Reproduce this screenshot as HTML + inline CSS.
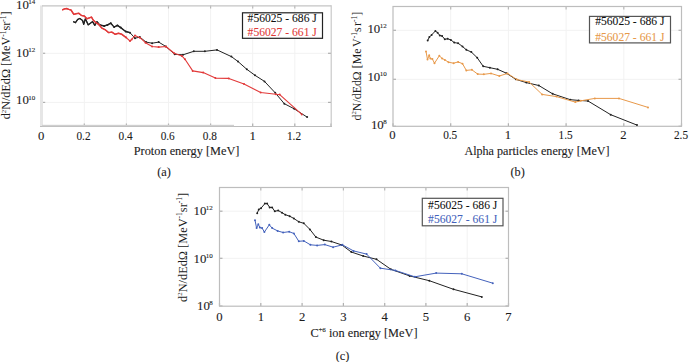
<!DOCTYPE html>
<html><head><meta charset="utf-8"><style>
html,body{margin:0;padding:0;background:#fff;}
svg{display:block;}
</style></head><body>
<svg width="689" height="362" viewBox="0 0 689 362">
<rect width="689" height="362" fill="#fff"/>
<line x1="84.3" y1="5.5" x2="84.3" y2="126.5" stroke="#f2f2f2" stroke-width="1"/>
<line x1="126.4" y1="5.5" x2="126.4" y2="126.5" stroke="#f2f2f2" stroke-width="1"/>
<line x1="168.5" y1="5.5" x2="168.5" y2="126.5" stroke="#f2f2f2" stroke-width="1"/>
<line x1="210.6" y1="5.5" x2="210.6" y2="126.5" stroke="#f2f2f2" stroke-width="1"/>
<line x1="252.7" y1="5.5" x2="252.7" y2="126.5" stroke="#f2f2f2" stroke-width="1"/>
<line x1="294.8" y1="5.5" x2="294.8" y2="126.5" stroke="#f2f2f2" stroke-width="1"/>
<line x1="42.2" y1="53.3" x2="331" y2="53.3" stroke="#f2f2f2" stroke-width="1"/>
<line x1="42.2" y1="102.4" x2="331" y2="102.4" stroke="#f2f2f2" stroke-width="1"/>
<line x1="42.2" y1="126.5" x2="42.2" y2="123.5" stroke="#b0b0b0" stroke-width="1.2"/>
<line x1="84.3" y1="126.5" x2="84.3" y2="123.5" stroke="#b0b0b0" stroke-width="1.2"/>
<line x1="84.3" y1="5.5" x2="84.3" y2="8.5" stroke="#b8b8b8" stroke-width="1.2"/>
<line x1="126.4" y1="126.5" x2="126.4" y2="123.5" stroke="#b0b0b0" stroke-width="1.2"/>
<line x1="126.4" y1="5.5" x2="126.4" y2="8.5" stroke="#b8b8b8" stroke-width="1.2"/>
<line x1="168.5" y1="126.5" x2="168.5" y2="123.5" stroke="#b0b0b0" stroke-width="1.2"/>
<line x1="168.5" y1="5.5" x2="168.5" y2="8.5" stroke="#b8b8b8" stroke-width="1.2"/>
<line x1="210.6" y1="126.5" x2="210.6" y2="123.5" stroke="#b0b0b0" stroke-width="1.2"/>
<line x1="210.6" y1="5.5" x2="210.6" y2="8.5" stroke="#b8b8b8" stroke-width="1.2"/>
<line x1="252.7" y1="126.5" x2="252.7" y2="123.5" stroke="#b0b0b0" stroke-width="1.2"/>
<line x1="252.7" y1="5.5" x2="252.7" y2="8.5" stroke="#b8b8b8" stroke-width="1.2"/>
<line x1="294.8" y1="126.5" x2="294.8" y2="123.5" stroke="#b0b0b0" stroke-width="1.2"/>
<line x1="294.8" y1="5.5" x2="294.8" y2="8.5" stroke="#b8b8b8" stroke-width="1.2"/>
<line x1="331" y1="126.5" x2="331" y2="123.5" stroke="#b0b0b0" stroke-width="1.2"/>
<line x1="42.2" y1="53.3" x2="45.2" y2="53.3" stroke="#b0b0b0" stroke-width="1.2"/>
<line x1="331" y1="53.3" x2="328" y2="53.3" stroke="#b0b0b0" stroke-width="1.2"/>
<line x1="42.2" y1="102.4" x2="45.2" y2="102.4" stroke="#b0b0b0" stroke-width="1.2"/>
<line x1="331" y1="102.4" x2="328" y2="102.4" stroke="#b0b0b0" stroke-width="1.2"/>
<rect x="40" y="5.5" width="3" height="121" fill="#e6e6e6"/>
<line x1="42" y1="5.9" x2="331.2" y2="5.9" stroke="#c4c4c4" stroke-width="1.3"/>
<line x1="331.2" y1="5.3" x2="331.2" y2="127" stroke="#c4c4c4" stroke-width="1.1"/>
<line x1="40" y1="126.5" x2="332" y2="126.5" stroke="#bdbdbd" stroke-width="1"/>
<rect x="42" y="124.8" width="192" height="1.4" fill="#cfcfcf"/>
<polyline points="73.2,21.6 75.5,22.7 77.7,19.4 79.9,18.5 82.6,20.5 83.7,24.3 85.4,18.8 88.2,24.9 90.4,23.2 92.6,21.6 94.8,25.4 97.0,21.6 99.7,24.9 104.2,26.0 107.5,24.9 110.8,23.2 114.1,27.1 117.4,25.4 120.7,27.6 125.7,31.5 130.0,32.7 135.0,38.2 139.9,37.1 146.0,42.1 152.1,43.2 158.7,42.1 165.9,46.5 174.7,54.3 183.0,54.8 193.8,51.3 204.9,51.3 217.0,49.9 231.4,56.6 238.0,61.5 246.8,69.3 255.0,75.3 264.5,81.4 275.2,92.8 284.3,103.7 294.2,108.8 307.1,117.1" fill="none" stroke="#222222" stroke-width="1" stroke-linejoin="round"/>
<circle cx="99.7" cy="24.9" r="1.0" fill="#222222"/><circle cx="104.2" cy="26.0" r="1.0" fill="#222222"/><circle cx="107.5" cy="24.9" r="1.0" fill="#222222"/><circle cx="110.8" cy="23.2" r="1.0" fill="#222222"/><circle cx="114.1" cy="27.1" r="1.0" fill="#222222"/><circle cx="117.4" cy="25.4" r="1.0" fill="#222222"/><circle cx="120.7" cy="27.6" r="1.0" fill="#222222"/><circle cx="125.7" cy="31.5" r="1.0" fill="#222222"/><circle cx="130.0" cy="32.7" r="1.0" fill="#222222"/><circle cx="135.0" cy="38.2" r="1.0" fill="#222222"/><circle cx="139.9" cy="37.1" r="1.0" fill="#222222"/><circle cx="146.0" cy="42.1" r="1.0" fill="#222222"/><circle cx="152.1" cy="43.2" r="1.0" fill="#222222"/><circle cx="158.7" cy="42.1" r="1.0" fill="#222222"/><circle cx="165.9" cy="46.5" r="1.0" fill="#222222"/><circle cx="174.7" cy="54.3" r="1.0" fill="#222222"/><circle cx="183.0" cy="54.8" r="1.0" fill="#222222"/><circle cx="193.8" cy="51.3" r="1.0" fill="#222222"/><circle cx="204.9" cy="51.3" r="1.0" fill="#222222"/><circle cx="217.0" cy="49.9" r="1.0" fill="#222222"/><circle cx="231.4" cy="56.6" r="1.0" fill="#222222"/><circle cx="238.0" cy="61.5" r="1.0" fill="#222222"/><circle cx="246.8" cy="69.3" r="1.0" fill="#222222"/><circle cx="255.0" cy="75.3" r="1.0" fill="#222222"/><circle cx="264.5" cy="81.4" r="1.0" fill="#222222"/><circle cx="275.2" cy="92.8" r="1.0" fill="#222222"/><circle cx="284.3" cy="103.7" r="1.0" fill="#222222"/><circle cx="294.2" cy="108.8" r="1.0" fill="#222222"/><circle cx="307.1" cy="117.1" r="1.0" fill="#222222"/>
<polyline points="73.2,21.6 75.5,22.7 77.7,19.4 79.9,18.5 82.6,20.5 83.7,24.3 85.4,18.8 88.2,24.9 90.4,23.2 92.6,21.6 94.8,25.4 97.0,21.6 99.7,24.9 104.2,26.0 107.5,24.9 110.8,23.2 114.1,27.1 117.4,25.4 120.7,27.6 125.7,31.5 130.0,32.7" fill="none" stroke="#222222" stroke-width="1.35" stroke-linejoin="round"/>
<polyline points="62.2,10.0 64.4,8.9 66.6,8.5 68.8,9.4 71.0,10.0 73.8,14.4 76.0,13.8 78.8,13.3 81.5,15.5 84.3,16.0 87.0,18.8 91.5,17.1 93.1,19.9 95.9,22.7 98.6,24.3 102.0,28.2 105.3,29.8 108.6,32.6 111.9,32.1 115.2,34.3 118.5,33.2 121.8,34.3 126.2,37.6 130.0,41.0 131.7,39.4 135.0,35.5 139.9,37.7 145.5,42.7 152.1,46.5 158.7,47.1 165.9,46.5 174.2,53.2 181.9,55.9 185.0,59.3 192.7,70.9 203.2,72.6 215.4,78.1 228.8,78.4 244.0,84.0 260.7,92.5 275.9,94.3 279.7,94.6 301.8,114.4" fill="none" stroke="#e23a3a" stroke-width="1.1" stroke-linejoin="round"/>
<circle cx="126.2" cy="37.6" r="1.0" fill="#e23a3a"/><circle cx="130.0" cy="41.0" r="1.0" fill="#e23a3a"/><circle cx="131.7" cy="39.4" r="1.0" fill="#e23a3a"/><circle cx="135.0" cy="35.5" r="1.0" fill="#e23a3a"/><circle cx="139.9" cy="37.7" r="1.0" fill="#e23a3a"/><circle cx="145.5" cy="42.7" r="1.0" fill="#e23a3a"/><circle cx="152.1" cy="46.5" r="1.0" fill="#e23a3a"/><circle cx="158.7" cy="47.1" r="1.0" fill="#e23a3a"/><circle cx="165.9" cy="46.5" r="1.0" fill="#e23a3a"/><circle cx="174.2" cy="53.2" r="1.0" fill="#e23a3a"/><circle cx="181.9" cy="55.9" r="1.0" fill="#e23a3a"/><circle cx="185.0" cy="59.3" r="1.0" fill="#e23a3a"/><circle cx="192.7" cy="70.9" r="1.0" fill="#e23a3a"/><circle cx="203.2" cy="72.6" r="1.0" fill="#e23a3a"/><circle cx="215.4" cy="78.1" r="1.0" fill="#e23a3a"/><circle cx="228.8" cy="78.4" r="1.0" fill="#e23a3a"/><circle cx="244.0" cy="84.0" r="1.0" fill="#e23a3a"/><circle cx="260.7" cy="92.5" r="1.0" fill="#e23a3a"/><circle cx="275.9" cy="94.3" r="1.0" fill="#e23a3a"/><circle cx="279.7" cy="94.6" r="1.0" fill="#e23a3a"/><circle cx="301.8" cy="114.4" r="1.0" fill="#e23a3a"/>
<polyline points="62.2,10.0 64.4,8.9 66.6,8.5 68.8,9.4 71.0,10.0 73.8,14.4 76.0,13.8 78.8,13.3 81.5,15.5 84.3,16.0 87.0,18.8 91.5,17.1 93.1,19.9 95.9,22.7 98.6,24.3 102.0,28.2 105.3,29.8 108.6,32.6 111.9,32.1 115.2,34.3 118.5,33.2 121.8,34.3 126.2,37.6" fill="none" stroke="#e23a3a" stroke-width="1.45" stroke-linejoin="round"/>
<text transform="translate(41.2,139.9) scale(1.0,1)" font-family="Liberation Serif" font-size="12.7" text-anchor="middle" fill="#1c1c1c" stroke="#1c1c1c" stroke-width="0.1">0</text>
<text transform="translate(83.5,139.9) scale(0.89,1)" font-family="Liberation Serif" font-size="12.7" text-anchor="middle" fill="#1c1c1c" stroke="#1c1c1c" stroke-width="0.1">0.2</text>
<text transform="translate(125.60000000000001,139.9) scale(0.89,1)" font-family="Liberation Serif" font-size="12.7" text-anchor="middle" fill="#1c1c1c" stroke="#1c1c1c" stroke-width="0.1">0.4</text>
<text transform="translate(167.7,139.9) scale(0.89,1)" font-family="Liberation Serif" font-size="12.7" text-anchor="middle" fill="#1c1c1c" stroke="#1c1c1c" stroke-width="0.1">0.6</text>
<text transform="translate(209.79999999999998,139.9) scale(0.89,1)" font-family="Liberation Serif" font-size="12.7" text-anchor="middle" fill="#1c1c1c" stroke="#1c1c1c" stroke-width="0.1">0.8</text>
<text transform="translate(252.7,139.9) scale(1.0,1)" font-family="Liberation Serif" font-size="12.7" text-anchor="middle" fill="#1c1c1c" stroke="#1c1c1c" stroke-width="0.1">1</text>
<text transform="translate(294.0,139.9) scale(0.89,1)" font-family="Liberation Serif" font-size="12.7" text-anchor="middle" fill="#1c1c1c" stroke="#1c1c1c" stroke-width="0.1">1.2</text>
<text x="35.3" y="8.9" font-family="Liberation Serif" font-size="12.8" text-anchor="end" fill="#1c1c1c" stroke="#1c1c1c" stroke-width="0.1">10<tspan font-size="7.0" dx="-0.5" dy="-4.6">14</tspan></text>
<text x="35.3" y="56.9" font-family="Liberation Serif" font-size="12.8" text-anchor="end" fill="#1c1c1c" stroke="#1c1c1c" stroke-width="0.1">10<tspan font-size="7.0" dx="-0.5" dy="-4.6">12</tspan></text>
<text x="35.3" y="104.2" font-family="Liberation Serif" font-size="12.8" text-anchor="end" fill="#1c1c1c" stroke="#1c1c1c" stroke-width="0.1">10<tspan font-size="7.0" dx="-0.5" dy="-4.6">10</tspan></text>
<text x="186.6" y="154.9" font-family="Liberation Serif" font-size="12.3" text-anchor="middle" fill="#1c1c1c" stroke="#1c1c1c" stroke-width="0.1">Proton energy [MeV]</text>
<text x="164" y="176.3" font-family="Liberation Serif" font-size="12.3" text-anchor="middle" fill="#1c1c1c" stroke="#1c1c1c" stroke-width="0.1">(a)</text>
<text transform="translate(10.1,65.4) rotate(-90)" font-family="Liberation Serif" font-size="12.2" text-anchor="middle" fill="#1c1c1c">d<tspan font-size="6.8" dy="-4.6">2</tspan><tspan dy="4.6">N/dEdΩ [MeV</tspan><tspan font-size="7.5" dy="-4.5">-1</tspan><tspan dy="4.5">sr</tspan><tspan font-size="7.5" dy="-4.5">-1</tspan><tspan dy="4.5">]</tspan></text>
<rect x="242.5" y="12.8" width="80" height="25.5" fill="#fff" stroke="#222" stroke-width="1.2"/><text x="247.6" y="22.3" font-family="Liberation Serif" font-size="11.6" fill="#111" stroke="#111" stroke-width="0.08">#56025 - 686 J</text><text x="247.6" y="35.9" font-family="Liberation Serif" font-size="11.6" fill="#e23a3a" stroke="#e23a3a" stroke-width="0.08">#56027 - 661 J</text>
<line x1="450.7" y1="6.5" x2="450.7" y2="126.3" stroke="#f2f2f2" stroke-width="1"/>
<line x1="508.4" y1="6.5" x2="508.4" y2="126.3" stroke="#f2f2f2" stroke-width="1"/>
<line x1="566.1" y1="6.5" x2="566.1" y2="126.3" stroke="#f2f2f2" stroke-width="1"/>
<line x1="623.8" y1="6.5" x2="623.8" y2="126.3" stroke="#f2f2f2" stroke-width="1"/>
<line x1="393" y1="30.3" x2="681.5" y2="30.3" stroke="#f2f2f2" stroke-width="1"/>
<line x1="393" y1="79.3" x2="681.5" y2="79.3" stroke="#f2f2f2" stroke-width="1"/>
<line x1="393.0" y1="126.3" x2="393.0" y2="123.3" stroke="#b0b0b0" stroke-width="1.2"/>
<line x1="450.7" y1="126.3" x2="450.7" y2="123.3" stroke="#b0b0b0" stroke-width="1.2"/>
<line x1="450.7" y1="6.5" x2="450.7" y2="9.5" stroke="#b8b8b8" stroke-width="1.2"/>
<line x1="508.4" y1="126.3" x2="508.4" y2="123.3" stroke="#b0b0b0" stroke-width="1.2"/>
<line x1="508.4" y1="6.5" x2="508.4" y2="9.5" stroke="#b8b8b8" stroke-width="1.2"/>
<line x1="566.1" y1="126.3" x2="566.1" y2="123.3" stroke="#b0b0b0" stroke-width="1.2"/>
<line x1="566.1" y1="6.5" x2="566.1" y2="9.5" stroke="#b8b8b8" stroke-width="1.2"/>
<line x1="623.8" y1="126.3" x2="623.8" y2="123.3" stroke="#b0b0b0" stroke-width="1.2"/>
<line x1="623.8" y1="6.5" x2="623.8" y2="9.5" stroke="#b8b8b8" stroke-width="1.2"/>
<line x1="681.5" y1="126.3" x2="681.5" y2="123.3" stroke="#b0b0b0" stroke-width="1.2"/>
<line x1="393" y1="30.3" x2="396" y2="30.3" stroke="#b0b0b0" stroke-width="1.2"/>
<line x1="681.5" y1="30.3" x2="678.5" y2="30.3" stroke="#b0b0b0" stroke-width="1.2"/>
<line x1="393" y1="79.3" x2="396" y2="79.3" stroke="#b0b0b0" stroke-width="1.2"/>
<line x1="681.5" y1="79.3" x2="678.5" y2="79.3" stroke="#b0b0b0" stroke-width="1.2"/>
<line x1="393" y1="126.3" x2="396" y2="126.3" stroke="#b0b0b0" stroke-width="1.2"/>
<line x1="681.5" y1="126.3" x2="678.5" y2="126.3" stroke="#b0b0b0" stroke-width="1.2"/>
<rect x="393" y="6.5" width="288.5" height="119.8" fill="none" stroke="#bdbdbd" stroke-width="1.2"/>
<polyline points="427.7,40.4 429.4,37.1 431.6,34.9 435.4,31.0 437.6,32.7 439.8,35.5 442.1,36.0 444.8,39.3 447.6,38.8 450.9,39.9 454.2,42.6 458.1,43.2 462.5,46.5 466.3,49.8 471.3,52.0 477.2,57.7 483.2,66.3 489.9,67.7 497.6,69.3 506.4,73.2 515.8,79.3 526.3,82.6 538.8,85.5 552.6,93.8 570.3,99.7 578.6,100.4 588.0,101.0 610.7,114.7 637.0,125.1" fill="none" stroke="#222222" stroke-width="1" stroke-linejoin="round"/>
<circle cx="427.7" cy="40.4" r="1.0" fill="#222222"/><circle cx="429.4" cy="37.1" r="1.0" fill="#222222"/><circle cx="431.6" cy="34.9" r="1.0" fill="#222222"/><circle cx="435.4" cy="31.0" r="1.0" fill="#222222"/><circle cx="437.6" cy="32.7" r="1.0" fill="#222222"/><circle cx="439.8" cy="35.5" r="1.0" fill="#222222"/><circle cx="442.1" cy="36.0" r="1.0" fill="#222222"/><circle cx="444.8" cy="39.3" r="1.0" fill="#222222"/><circle cx="447.6" cy="38.8" r="1.0" fill="#222222"/><circle cx="450.9" cy="39.9" r="1.0" fill="#222222"/><circle cx="454.2" cy="42.6" r="1.0" fill="#222222"/><circle cx="458.1" cy="43.2" r="1.0" fill="#222222"/><circle cx="462.5" cy="46.5" r="1.0" fill="#222222"/><circle cx="466.3" cy="49.8" r="1.0" fill="#222222"/><circle cx="471.3" cy="52.0" r="1.0" fill="#222222"/><circle cx="477.2" cy="57.7" r="1.0" fill="#222222"/><circle cx="483.2" cy="66.3" r="1.0" fill="#222222"/><circle cx="489.9" cy="67.7" r="1.0" fill="#222222"/><circle cx="497.6" cy="69.3" r="1.0" fill="#222222"/><circle cx="506.4" cy="73.2" r="1.0" fill="#222222"/><circle cx="515.8" cy="79.3" r="1.0" fill="#222222"/><circle cx="526.3" cy="82.6" r="1.0" fill="#222222"/><circle cx="538.8" cy="85.5" r="1.0" fill="#222222"/><circle cx="552.6" cy="93.8" r="1.0" fill="#222222"/><circle cx="570.3" cy="99.7" r="1.0" fill="#222222"/><circle cx="578.6" cy="100.4" r="1.0" fill="#222222"/><circle cx="588.0" cy="101.0" r="1.0" fill="#222222"/><circle cx="610.7" cy="114.7" r="1.0" fill="#222222"/><circle cx="637.0" cy="125.1" r="1.0" fill="#222222"/>
<polyline points="426.0,51.5 427.5,59.5 429.2,55.3 430.4,58.6 432.4,59.1 434.5,63.2 439.3,55.8 442.1,58.4 444.9,59.9 448.5,62.2 453.6,63.2 458.1,61.9 462.5,63.7 466.3,70.4 471.9,69.8 477.7,74.1 483.8,74.3 491.0,73.4 499.3,76.0 507.5,73.4 516.9,79.6 529.1,82.0 542.1,94.4 556.5,96.6 575.3,102.1 580.8,100.8 594.8,98.4 619.0,98.4 648.0,107.4" fill="none" stroke="#e8994a" stroke-width="1.0" stroke-linejoin="round"/>
<circle cx="426.0" cy="51.5" r="1.0" fill="#e8994a"/><circle cx="427.5" cy="59.5" r="1.0" fill="#e8994a"/><circle cx="429.2" cy="55.3" r="1.0" fill="#e8994a"/><circle cx="430.4" cy="58.6" r="1.0" fill="#e8994a"/><circle cx="432.4" cy="59.1" r="1.0" fill="#e8994a"/><circle cx="434.5" cy="63.2" r="1.0" fill="#e8994a"/><circle cx="439.3" cy="55.8" r="1.0" fill="#e8994a"/><circle cx="442.1" cy="58.4" r="1.0" fill="#e8994a"/><circle cx="444.9" cy="59.9" r="1.0" fill="#e8994a"/><circle cx="448.5" cy="62.2" r="1.0" fill="#e8994a"/><circle cx="453.6" cy="63.2" r="1.0" fill="#e8994a"/><circle cx="458.1" cy="61.9" r="1.0" fill="#e8994a"/><circle cx="462.5" cy="63.7" r="1.0" fill="#e8994a"/><circle cx="466.3" cy="70.4" r="1.0" fill="#e8994a"/><circle cx="471.9" cy="69.8" r="1.0" fill="#e8994a"/><circle cx="477.7" cy="74.1" r="1.0" fill="#e8994a"/><circle cx="483.8" cy="74.3" r="1.0" fill="#e8994a"/><circle cx="491.0" cy="73.4" r="1.0" fill="#e8994a"/><circle cx="499.3" cy="76.0" r="1.0" fill="#e8994a"/><circle cx="507.5" cy="73.4" r="1.0" fill="#e8994a"/><circle cx="516.9" cy="79.6" r="1.0" fill="#e8994a"/><circle cx="529.1" cy="82.0" r="1.0" fill="#e8994a"/><circle cx="542.1" cy="94.4" r="1.0" fill="#e8994a"/><circle cx="556.5" cy="96.6" r="1.0" fill="#e8994a"/><circle cx="575.3" cy="102.1" r="1.0" fill="#e8994a"/><circle cx="580.8" cy="100.8" r="1.0" fill="#e8994a"/><circle cx="594.8" cy="98.4" r="1.0" fill="#e8994a"/><circle cx="619.0" cy="98.4" r="1.0" fill="#e8994a"/><circle cx="648.0" cy="107.4" r="1.0" fill="#e8994a"/>
<text transform="translate(392.5,138.9) scale(1.0,1)" font-family="Liberation Serif" font-size="12.7" text-anchor="middle" fill="#1c1c1c" stroke="#1c1c1c" stroke-width="0.1">0</text>
<text transform="translate(450.2,138.9) scale(0.89,1)" font-family="Liberation Serif" font-size="12.7" text-anchor="middle" fill="#1c1c1c" stroke="#1c1c1c" stroke-width="0.1">0.5</text>
<text transform="translate(507.9,138.9) scale(1.0,1)" font-family="Liberation Serif" font-size="12.7" text-anchor="middle" fill="#1c1c1c" stroke="#1c1c1c" stroke-width="0.1">1</text>
<text transform="translate(565.6,138.9) scale(0.89,1)" font-family="Liberation Serif" font-size="12.7" text-anchor="middle" fill="#1c1c1c" stroke="#1c1c1c" stroke-width="0.1">1.5</text>
<text transform="translate(623.3,138.9) scale(1.0,1)" font-family="Liberation Serif" font-size="12.7" text-anchor="middle" fill="#1c1c1c" stroke="#1c1c1c" stroke-width="0.1">2</text>
<text transform="translate(681.0,138.9) scale(0.89,1)" font-family="Liberation Serif" font-size="12.7" text-anchor="middle" fill="#1c1c1c" stroke="#1c1c1c" stroke-width="0.1">2.5</text>
<text x="386.7" y="32.8" font-family="Liberation Serif" font-size="12.8" text-anchor="end" fill="#1c1c1c" stroke="#1c1c1c" stroke-width="0.1">10<tspan font-size="7.0" dx="-0.5" dy="-4.6">12</tspan></text>
<text x="386.7" y="80.9" font-family="Liberation Serif" font-size="12.8" text-anchor="end" fill="#1c1c1c" stroke="#1c1c1c" stroke-width="0.1">10<tspan font-size="7.0" dx="-0.5" dy="-4.6">10</tspan></text>
<text x="386.7" y="129" font-family="Liberation Serif" font-size="12.8" text-anchor="end" fill="#1c1c1c" stroke="#1c1c1c" stroke-width="0.1">10<tspan font-size="7.0" dx="-0.5" dy="-4.6">8</tspan></text>
<text x="537" y="155.3" font-family="Liberation Serif" font-size="12.1" text-anchor="middle" fill="#1c1c1c" stroke="#1c1c1c" stroke-width="0.1">Alpha particles energy [MeV]</text>
<text x="517.6" y="176.3" font-family="Liberation Serif" font-size="12.3" text-anchor="middle" fill="#1c1c1c" stroke="#1c1c1c" stroke-width="0.1">(b)</text>
<text transform="translate(361,66.2) rotate(-90)" font-family="Liberation Serif" font-size="11.9" text-anchor="middle" fill="#1c1c1c">d<tspan font-size="6.8" dy="-4.6">2</tspan><tspan dy="4.6">N/dEdΩ [Me</tspan><tspan dx="1.6">V</tspan><tspan font-size="7.5" dy="-4.5">-1</tspan><tspan dy="4.5">s</tspan><tspan dx="1.4">r</tspan><tspan font-size="7.5" dy="-4.5">-1</tspan><tspan dy="4.5">]</tspan></text>
<rect x="589.5" y="16.4" width="81" height="26.5" fill="#fff" stroke="#555" stroke-width="1.2"/><text x="595.2" y="25.2" font-family="Liberation Serif" font-size="11.6" fill="#111" stroke="#111" stroke-width="0.08">#56025 - 686 J</text><text x="595.2" y="40.7" font-family="Liberation Serif" font-size="11.6" fill="#e8994a" stroke="#e8994a" stroke-width="0.08">#56027 - 661 J</text>
<line x1="260.8" y1="187.5" x2="260.8" y2="306" stroke="#f2f2f2" stroke-width="1"/>
<line x1="302.1" y1="187.5" x2="302.1" y2="306" stroke="#f2f2f2" stroke-width="1"/>
<line x1="343.4" y1="187.5" x2="343.4" y2="306" stroke="#f2f2f2" stroke-width="1"/>
<line x1="384.7" y1="187.5" x2="384.7" y2="306" stroke="#f2f2f2" stroke-width="1"/>
<line x1="425.9" y1="187.5" x2="425.9" y2="306" stroke="#f2f2f2" stroke-width="1"/>
<line x1="467.2" y1="187.5" x2="467.2" y2="306" stroke="#f2f2f2" stroke-width="1"/>
<line x1="219.5" y1="211.2" x2="508.5" y2="211.2" stroke="#f2f2f2" stroke-width="1"/>
<line x1="219.5" y1="258.3" x2="508.5" y2="258.3" stroke="#f2f2f2" stroke-width="1"/>
<line x1="219.5" y1="306" x2="219.5" y2="303" stroke="#b0b0b0" stroke-width="1.2"/>
<line x1="260.8" y1="306" x2="260.8" y2="303" stroke="#b0b0b0" stroke-width="1.2"/>
<line x1="260.8" y1="187.5" x2="260.8" y2="190.5" stroke="#b8b8b8" stroke-width="1.2"/>
<line x1="302.1" y1="306" x2="302.1" y2="303" stroke="#b0b0b0" stroke-width="1.2"/>
<line x1="302.1" y1="187.5" x2="302.1" y2="190.5" stroke="#b8b8b8" stroke-width="1.2"/>
<line x1="343.4" y1="306" x2="343.4" y2="303" stroke="#b0b0b0" stroke-width="1.2"/>
<line x1="343.4" y1="187.5" x2="343.4" y2="190.5" stroke="#b8b8b8" stroke-width="1.2"/>
<line x1="384.7" y1="306" x2="384.7" y2="303" stroke="#b0b0b0" stroke-width="1.2"/>
<line x1="384.7" y1="187.5" x2="384.7" y2="190.5" stroke="#b8b8b8" stroke-width="1.2"/>
<line x1="425.9" y1="306" x2="425.9" y2="303" stroke="#b0b0b0" stroke-width="1.2"/>
<line x1="425.9" y1="187.5" x2="425.9" y2="190.5" stroke="#b8b8b8" stroke-width="1.2"/>
<line x1="467.2" y1="306" x2="467.2" y2="303" stroke="#b0b0b0" stroke-width="1.2"/>
<line x1="467.2" y1="187.5" x2="467.2" y2="190.5" stroke="#b8b8b8" stroke-width="1.2"/>
<line x1="508.5" y1="306" x2="508.5" y2="303" stroke="#b0b0b0" stroke-width="1.2"/>
<line x1="219.5" y1="211.2" x2="222.5" y2="211.2" stroke="#b0b0b0" stroke-width="1.2"/>
<line x1="508.5" y1="211.2" x2="505.5" y2="211.2" stroke="#b0b0b0" stroke-width="1.2"/>
<line x1="219.5" y1="258.3" x2="222.5" y2="258.3" stroke="#b0b0b0" stroke-width="1.2"/>
<line x1="508.5" y1="258.3" x2="505.5" y2="258.3" stroke="#b0b0b0" stroke-width="1.2"/>
<line x1="219.5" y1="306" x2="222.5" y2="306" stroke="#b0b0b0" stroke-width="1.2"/>
<line x1="508.5" y1="306" x2="505.5" y2="306" stroke="#b0b0b0" stroke-width="1.2"/>
<rect x="219.5" y="187.5" width="289" height="118.7" fill="none" stroke="#bdbdbd" stroke-width="1.2"/>
<polyline points="257.2,213.2 258.8,209.4 261.0,208.2 264.9,203.6 267.1,203.6 269.7,207.4 272.1,207.4 274.8,211.3 278.2,210.5 282.0,212.7 285.3,214.7 289.7,216.2 293.9,218.5 298.8,221.8 303.8,223.3 309.9,229.4 315.9,237.1 323.7,240.2 331.4,241.5 341.9,245.0 351.3,252.0 363.2,256.0 376.5,259.3 390.9,269.3 409.6,275.9 429.3,280.7 453.5,289.3 481.8,296.9" fill="none" stroke="#222222" stroke-width="1" stroke-linejoin="round"/>
<circle cx="257.2" cy="213.2" r="1.0" fill="#222222"/><circle cx="258.8" cy="209.4" r="1.0" fill="#222222"/><circle cx="261.0" cy="208.2" r="1.0" fill="#222222"/><circle cx="264.9" cy="203.6" r="1.0" fill="#222222"/><circle cx="267.1" cy="203.6" r="1.0" fill="#222222"/><circle cx="269.7" cy="207.4" r="1.0" fill="#222222"/><circle cx="272.1" cy="207.4" r="1.0" fill="#222222"/><circle cx="274.8" cy="211.3" r="1.0" fill="#222222"/><circle cx="278.2" cy="210.5" r="1.0" fill="#222222"/><circle cx="282.0" cy="212.7" r="1.0" fill="#222222"/><circle cx="285.3" cy="214.7" r="1.0" fill="#222222"/><circle cx="289.7" cy="216.2" r="1.0" fill="#222222"/><circle cx="293.9" cy="218.5" r="1.0" fill="#222222"/><circle cx="298.8" cy="221.8" r="1.0" fill="#222222"/><circle cx="303.8" cy="223.3" r="1.0" fill="#222222"/><circle cx="309.9" cy="229.4" r="1.0" fill="#222222"/><circle cx="315.9" cy="237.1" r="1.0" fill="#222222"/><circle cx="323.7" cy="240.2" r="1.0" fill="#222222"/><circle cx="331.4" cy="241.5" r="1.0" fill="#222222"/><circle cx="341.9" cy="245.0" r="1.0" fill="#222222"/><circle cx="351.3" cy="252.0" r="1.0" fill="#222222"/><circle cx="363.2" cy="256.0" r="1.0" fill="#222222"/><circle cx="376.5" cy="259.3" r="1.0" fill="#222222"/><circle cx="390.9" cy="269.3" r="1.0" fill="#222222"/><circle cx="409.6" cy="275.9" r="1.0" fill="#222222"/><circle cx="429.3" cy="280.7" r="1.0" fill="#222222"/><circle cx="453.5" cy="289.3" r="1.0" fill="#222222"/><circle cx="481.8" cy="296.9" r="1.0" fill="#222222"/>
<polyline points="255.0,220.2 256.6,228.1 258.3,224.3 259.9,227.6 262.1,228.1 264.4,232.0 269.3,224.8 272.1,228.1 277.6,230.9 283.1,232.5 289.2,231.7 293.9,233.5 298.8,241.3 303.8,240.9 310.4,244.8 317.1,245.4 324.8,244.6 333.1,247.2 342.4,244.8 353.5,250.9 366.6,254.1 380.4,268.2 395.3,270.4 414.8,276.8 436.2,273.1 461.8,273.8 492.8,283.2" fill="none" stroke="#4462bc" stroke-width="1.0" stroke-linejoin="round"/>
<circle cx="255.0" cy="220.2" r="1.0" fill="#4462bc"/><circle cx="256.6" cy="228.1" r="1.0" fill="#4462bc"/><circle cx="258.3" cy="224.3" r="1.0" fill="#4462bc"/><circle cx="259.9" cy="227.6" r="1.0" fill="#4462bc"/><circle cx="262.1" cy="228.1" r="1.0" fill="#4462bc"/><circle cx="264.4" cy="232.0" r="1.0" fill="#4462bc"/><circle cx="269.3" cy="224.8" r="1.0" fill="#4462bc"/><circle cx="272.1" cy="228.1" r="1.0" fill="#4462bc"/><circle cx="277.6" cy="230.9" r="1.0" fill="#4462bc"/><circle cx="283.1" cy="232.5" r="1.0" fill="#4462bc"/><circle cx="289.2" cy="231.7" r="1.0" fill="#4462bc"/><circle cx="293.9" cy="233.5" r="1.0" fill="#4462bc"/><circle cx="298.8" cy="241.3" r="1.0" fill="#4462bc"/><circle cx="303.8" cy="240.9" r="1.0" fill="#4462bc"/><circle cx="310.4" cy="244.8" r="1.0" fill="#4462bc"/><circle cx="317.1" cy="245.4" r="1.0" fill="#4462bc"/><circle cx="324.8" cy="244.6" r="1.0" fill="#4462bc"/><circle cx="333.1" cy="247.2" r="1.0" fill="#4462bc"/><circle cx="342.4" cy="244.8" r="1.0" fill="#4462bc"/><circle cx="353.5" cy="250.9" r="1.0" fill="#4462bc"/><circle cx="366.6" cy="254.1" r="1.0" fill="#4462bc"/><circle cx="380.4" cy="268.2" r="1.0" fill="#4462bc"/><circle cx="395.3" cy="270.4" r="1.0" fill="#4462bc"/><circle cx="414.8" cy="276.8" r="1.0" fill="#4462bc"/><circle cx="436.2" cy="273.1" r="1.0" fill="#4462bc"/><circle cx="461.8" cy="273.8" r="1.0" fill="#4462bc"/><circle cx="492.8" cy="283.2" r="1.0" fill="#4462bc"/>
<text transform="translate(219.5,320.9) scale(1.0,1)" font-family="Liberation Serif" font-size="12.7" text-anchor="middle" fill="#1c1c1c" stroke="#1c1c1c" stroke-width="0.1">0</text>
<text transform="translate(260.8,320.9) scale(1.0,1)" font-family="Liberation Serif" font-size="12.7" text-anchor="middle" fill="#1c1c1c" stroke="#1c1c1c" stroke-width="0.1">1</text>
<text transform="translate(302.1,320.9) scale(1.0,1)" font-family="Liberation Serif" font-size="12.7" text-anchor="middle" fill="#1c1c1c" stroke="#1c1c1c" stroke-width="0.1">2</text>
<text transform="translate(343.4,320.9) scale(1.0,1)" font-family="Liberation Serif" font-size="12.7" text-anchor="middle" fill="#1c1c1c" stroke="#1c1c1c" stroke-width="0.1">3</text>
<text transform="translate(384.7,320.9) scale(1.0,1)" font-family="Liberation Serif" font-size="12.7" text-anchor="middle" fill="#1c1c1c" stroke="#1c1c1c" stroke-width="0.1">4</text>
<text transform="translate(425.9,320.9) scale(1.0,1)" font-family="Liberation Serif" font-size="12.7" text-anchor="middle" fill="#1c1c1c" stroke="#1c1c1c" stroke-width="0.1">5</text>
<text transform="translate(467.2,320.9) scale(1.0,1)" font-family="Liberation Serif" font-size="12.7" text-anchor="middle" fill="#1c1c1c" stroke="#1c1c1c" stroke-width="0.1">6</text>
<text transform="translate(508.5,320.9) scale(1.0,1)" font-family="Liberation Serif" font-size="12.7" text-anchor="middle" fill="#1c1c1c" stroke="#1c1c1c" stroke-width="0.1">7</text>
<text x="212.8" y="214.9" font-family="Liberation Serif" font-size="12.8" text-anchor="end" fill="#1c1c1c" stroke="#1c1c1c" stroke-width="0.1">10<tspan font-size="7.0" dx="-0.5" dy="-4.6">12</tspan></text>
<text x="212.8" y="262.9" font-family="Liberation Serif" font-size="12.8" text-anchor="end" fill="#1c1c1c" stroke="#1c1c1c" stroke-width="0.1">10<tspan font-size="7.0" dx="-0.5" dy="-4.6">10</tspan></text>
<text x="212.8" y="309.9" font-family="Liberation Serif" font-size="12.8" text-anchor="end" fill="#1c1c1c" stroke="#1c1c1c" stroke-width="0.1">10<tspan font-size="7.0" dx="-0.5" dy="-4.6">8</tspan></text>
<text x="364" y="336.7" font-family="Liberation Serif" font-size="12.3" text-anchor="middle" fill="#1c1c1c" stroke="#1c1c1c" stroke-width="0.1">C<tspan font-size="7" dx="-0.3" dy="-4.5">+6</tspan><tspan dy="4.5"> ion energy [MeV]</tspan></text>
<text x="342.5" y="359.8" font-family="Liberation Serif" font-size="12.3" text-anchor="middle" fill="#1c1c1c" stroke="#1c1c1c" stroke-width="0.1">(c)</text>
<text transform="translate(186.8,247.4) rotate(-90)" font-family="Liberation Serif" font-size="12.35" text-anchor="middle" fill="#1c1c1c">d<tspan font-size="6.8" dy="-4.6">2</tspan><tspan dy="4.6">N/dEdΩ [MeV</tspan><tspan font-size="7.5" dy="-4.5">-1</tspan><tspan dy="4.5">sr</tspan><tspan font-size="7.5" dy="-4.5">-1</tspan><tspan dy="4.5">]</tspan></text>
<rect x="422.3" y="198.3" width="80.7" height="27.5" fill="#fff" stroke="#555" stroke-width="1.2"/><text x="428.1" y="208.5" font-family="Liberation Serif" font-size="11.6" fill="#111" stroke="#111" stroke-width="0.08">#56025 - 686 J</text><text x="428.1" y="223.1" font-family="Liberation Serif" font-size="11.6" fill="#4462bc" stroke="#4462bc" stroke-width="0.08">#56027 - 661 J</text>
</svg></body></html>
